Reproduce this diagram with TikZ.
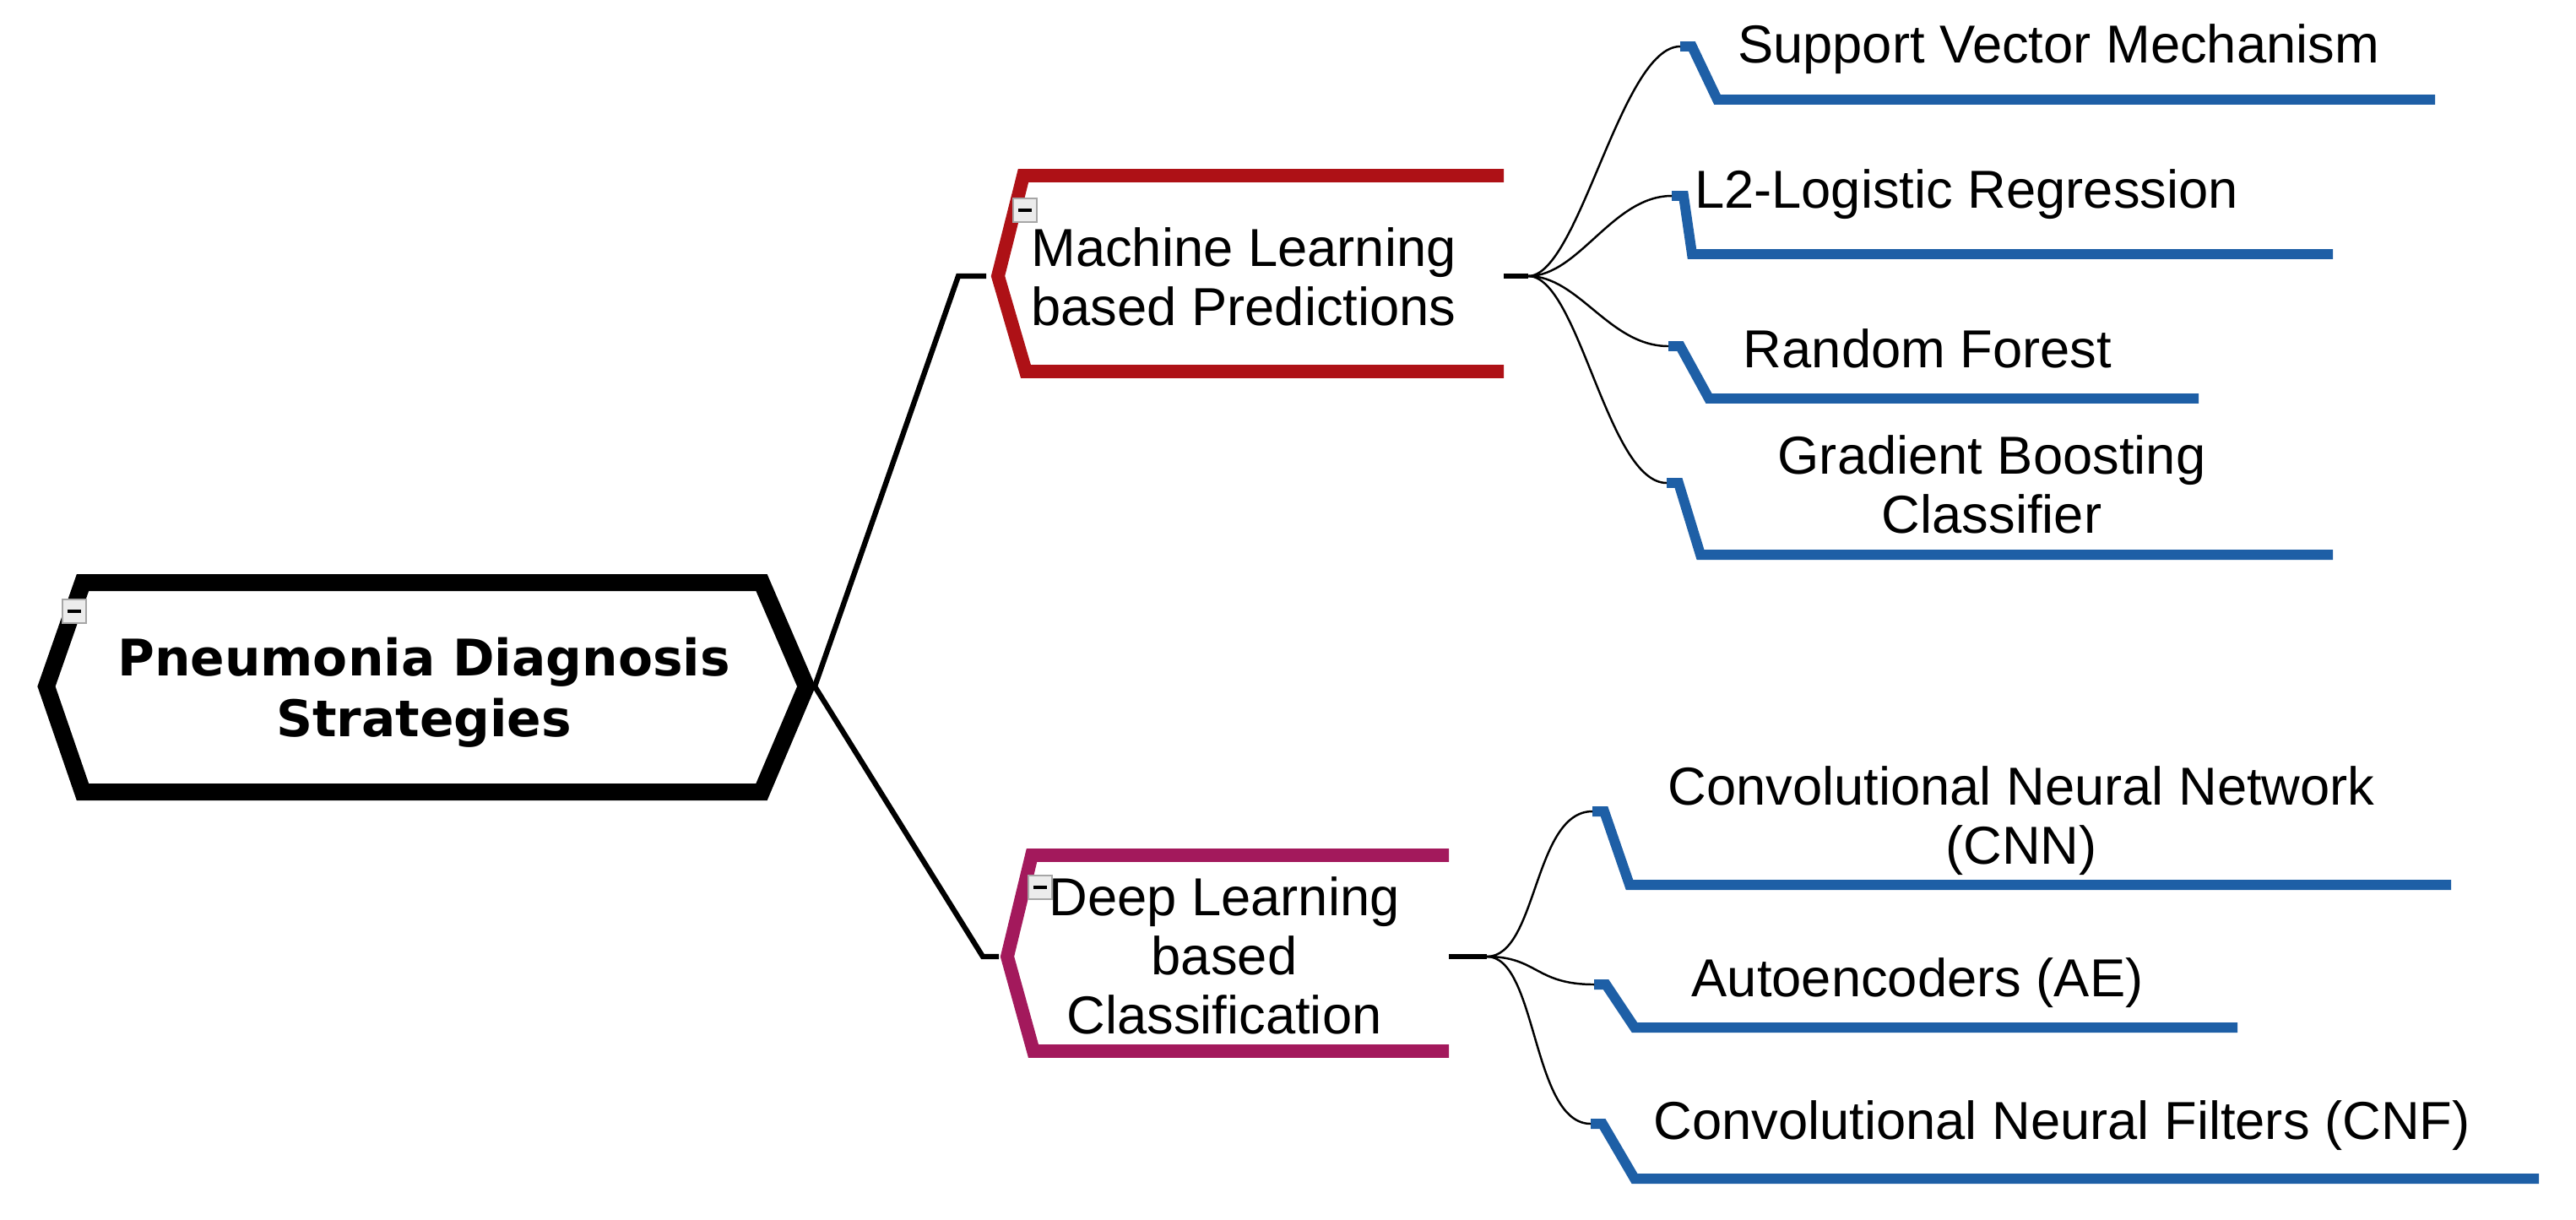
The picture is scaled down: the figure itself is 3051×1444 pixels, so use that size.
\documentclass[tikz,border=0pt]{standalone}
\usepackage{fontspec}
\setmainfont{Liberation Sans}
\newfontfamily\rootfont{DejaVu Sans}
\begin{document}
\begin{tikzpicture}[x=0.01cm,y=-0.01cm,
  lbl/.style={font=\fontsize{18}{20}\selectfont,align=center,inner sep=0},
  rootlbl/.style={font=\rootfont\bfseries\fontsize{17}{20.5}\selectfont,align=center,inner sep=0},
  leaf/.style={draw=leafblue,line width=3.4pt},
  thin/.style={draw=black,line width=0.7pt},
  minusbox/.style={draw=gray!70,fill=gray!15,line width=0.6pt,minimum size=0.28cm,inner sep=0}]
\definecolor{leafblue}{HTML}{1E5FA6}
\definecolor{mlred}{HTML}{AE1116}
\definecolor{dlpurple}{HTML}{A3195C}
\useasboundingbox (0,0) rectangle (3051,1444);
% root
\draw[line width=5.7pt,line join=miter] (98,690) -- (902,690) -- (955,813) -- (902,938) -- (98,938) -- (55,813) -- cycle;
\coordinate (rootR) at (965,813);
\node[rootlbl] (root) at (502,820) {Pneumonia Diagnosis\\Strategies};
% ML
\draw[mlred,line width=4.5pt] (1781,208) -- (1212,208) -- (1182,327) -- (1215,440) -- (1781,440);
\coordinate (mlL) at (1168,327);
\coordinate (mlR) at (1781,327);
\coordinate (mlH) at (1810,327);
\node[lbl] (ml) at (1473,328) {Machine Learning\\based Predictions};
% DL
\draw[dlpurple,line width=4.5pt] (1716,1013) -- (1222,1013) -- (1193,1133) -- (1224,1245) -- (1716,1245);
\coordinate (dlL) at (1183,1133);
\coordinate (dlR) at (1716,1133);
\coordinate (dlH) at (1761,1133);
\node[lbl] (dl) at (1450,1132) {Deep Learning\\based\\Classification};
% root connectors
\draw[line width=1.8pt,line join=miter] (rootR) -- (1135,327) -- (mlL);
\draw[line width=1.8pt,line join=miter] (rootR) -- (1164,1133) -- (dlL);
\draw[line width=1.8pt] (mlR) -- (mlH);
\draw[line width=1.8pt] (dlR) -- (dlH);
% leaves
\foreach \n/\xa/\ya/\xb/\yb/\xc in {
  svm/1990/55/2034/118/2884,
  l2/1980/232/2004/301/2763,
  rf/1976/410/2024/472/2604,
  gb/1974/572/2014/657/2763,
  cnn/1886/961/1930/1048/2903,
  ae/1888/1166/1936/1217/2650,
  cnf/1884/1331/1936/1396/3007}{
  \coordinate (\n) at (\xa,\ya);
  \draw[leaf] (\xa,\ya) -- ++(14,0) -- (\xb,\yb) -- (\xc,\yb);
}
\foreach \n in {svm,l2,rf,gb}
  \draw[thin] (mlH) .. controls +(60,0) and +(-70,0) .. (\n);
\foreach \n in {cnn,ae,cnf}
  \draw[thin] (dlH) .. controls +(60,0) and +(-70,0) .. (\n);
\node[lbl] (tsvm) at (2438,58) {Support Vector Mechanism};
\node[lbl] (tl2) at (2329,230) {L2-Logistic Regression};
\node[lbl] (trf) at (2283,413) {Random Forest};
\node[lbl] (tgb) at (2359,574) {Gradient Boosting\\Classifier};
\node[lbl] (tcnn) at (2394,972) {Convolutional Neural Network\\(CNN)};
\node[lbl] (tae) at (2271,1164) {Autoencoders (AE)};
\node[lbl] (tcnf) at (2442,1333) {Convolutional Neural Filters (CNF)};
% minus boxes
\foreach \n/\x/\y in {mroot/88/724,mml/1214/249,mdl/1232/1051}{
  \node[minusbox] (\n) at (\x,\y) {};
  \draw[line width=1.2pt] ([xshift=-0.08cm]\n.center) -- ([xshift=0.08cm]\n.center);
}
\end{tikzpicture}
\end{document}
